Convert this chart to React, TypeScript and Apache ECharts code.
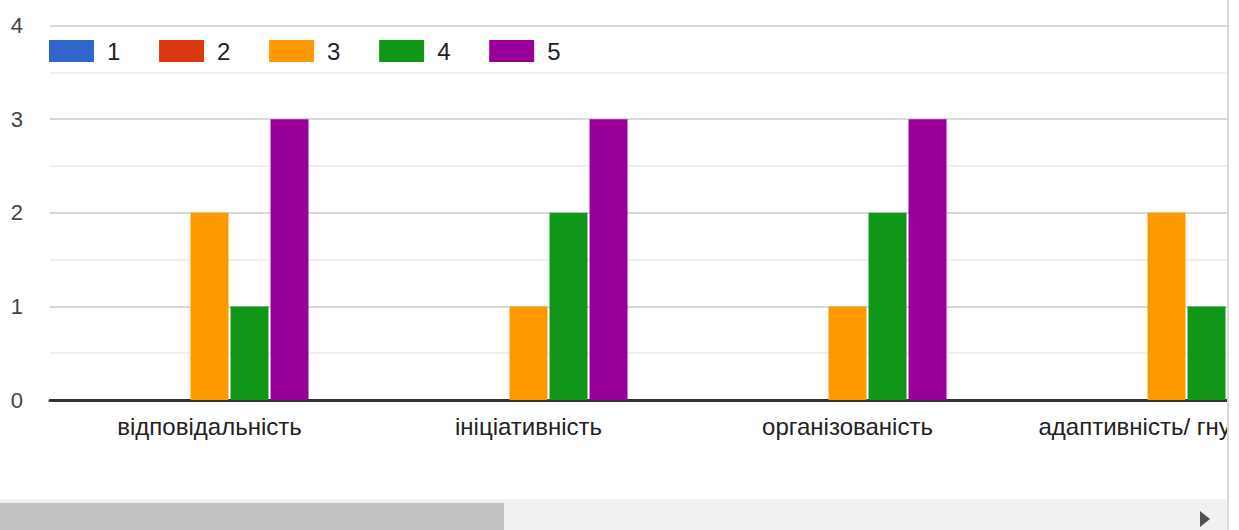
import React, { useEffect, useRef } from "react";
import * as echarts from "echarts";

const categories = ["відповідальність", "ініціативність", "організованість", "адаптивність/ гнучкість"];
const seriesNames = ["1", "2", "3", "4", "5"];
const values1 = [0, 0, 0, 0];
const values2 = [0, 0, 0, 0];
const values3 = [2, 1, 1, 2];
const values4 = [1, 2, 2, 1];
const values5 = [3, 3, 3, 3];
const colors = ["#3366cc", "#dc3912", "#ff9900", "#109618", "#990099"];
const yTicks = [0, 1, 2, 3, 4];

export default function App() {
  const ref = useRef<HTMLDivElement>(null);
  useEffect(() => {
    if (!ref.current) return;
    const chart = echarts.init(ref.current, undefined, { renderer: "svg" });
    const all = [values1, values2, values3, values4, values5];
    chart.setOption({
      animation: false,
      color: colors,
      textStyle: { fontFamily: "'Liberation Sans', Arial, sans-serif" },
      legend: {
        left: 49,
        top: 39,
        padding: 0,
        itemWidth: 45,
        itemHeight: 22,
        itemGap: 38.7,
        icon: "rect",
        data: seriesNames,
        selectedMode: false,
        textStyle: { fontSize: 24, color: "#222222", padding: [0, 0, 0, 8] },
      },
      grid: { left: 50, top: 25.5, width: 319 * categories.length, height: 374.5, containLabel: false },
      xAxis: {
        type: "category",
        data: categories,
        axisTick: { show: false },
        axisLine: { show: true, lineStyle: { color: "#333333", width: 3 } },
        axisLabel: { interval: 0, fontSize: 24, color: "#222222", margin: 14 },
        splitLine: { show: false },
      },
      yAxis: {
        type: "value",
        min: yTicks[0],
        max: yTicks[yTicks.length - 1],
        interval: 1,
        axisLine: { show: false },
        axisTick: { show: false },
        axisLabel: { fontSize: 22, color: "#444444", margin: 27 },
        splitLine: { show: true, lineStyle: { color: "#cccccc", width: 1.5 } },
        minorTick: { show: false, splitNumber: 2 },
        minorSplitLine: { show: true, lineStyle: { color: "#ebebeb", width: 1.5 } },
      },
      series: seriesNames.map((name, i) => ({
        name,
        type: "bar",
        data: all[i],
        barWidth: 38,
        barGap: "5.3%",
        itemStyle: { color: colors[i] },
      })),
    });
    return () => chart.dispose();
  }, []);

  return (
    <div style={{ position: "absolute", left: 0, top: 0, width: 1239, height: 530, background: "#fff", overflow: "hidden" }}>
      <div style={{ position: "absolute", left: 0, top: 0, width: 1227, height: 499, overflow: "hidden" }}>
        <div ref={ref} style={{ width: 1400, height: 499 }} />
      </div>
      <div style={{ position: "absolute", left: 0, top: 499, width: 1227, height: 31, background: "#f1f1f1" }} />
      <div style={{ position: "absolute", left: 0, top: 503, width: 504, height: 27, background: "#c1c1c1" }} />
      <div
        style={{
          position: "absolute",
          left: 1200,
          top: 511,
          width: 0,
          height: 0,
          borderLeft: "10px solid #505050",
          borderTop: "8.5px solid transparent",
          borderBottom: "8.5px solid transparent",
        }}
      />
      <div style={{ position: "absolute", left: 1227, top: 0, width: 1.5, height: 530, background: "#dadada" }} />
    </div>
  );
}
